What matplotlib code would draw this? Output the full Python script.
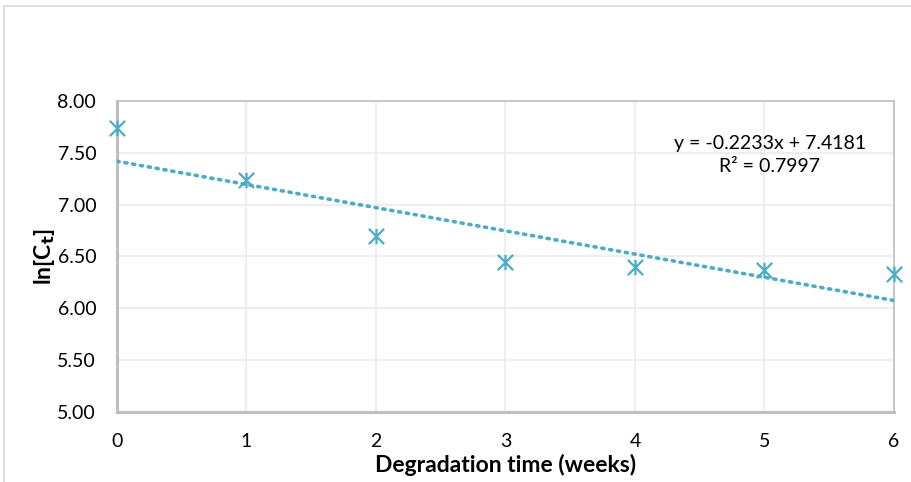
import numpy as np
import matplotlib
matplotlib.use("Agg")
import matplotlib.pyplot as plt
from matplotlib.path import Path
from matplotlib.patches import Rectangle

weeks = [0, 1, 2, 3, 4, 5, 6]
ln_ct = [7.74, 7.24, 6.70, 6.45, 6.40, 6.37, 6.33]
y_ticks = [5.00, 5.50, 6.00, 6.50, 7.00, 7.50, 8.00]
eq_text = "y = -0.2233x + 7.4181"
r2_text = "R² = 0.7997"

plt.rcParams['font.family'] = ['Lato', 'DejaVu Sans']
color = '#4bacc6'

fig = plt.figure(figsize=(9.12, 4.82), dpi=100)
fig.patches.append(Rectangle((4/912, -0.5), 2.0, 0.5 + 1 - 6/482, transform=fig.transFigure,
                             fill=False, edgecolor='#d9d9d9', linewidth=1.2))
ax = fig.add_axes([117/912, 1 - 412/482, (894 - 117)/912, (412 - 101)/482])

star = Path([(-1, -1), (1, 1), (-1, 1), (1, -1), (0, -1), (0, 1)],
            [Path.MOVETO, Path.LINETO, Path.MOVETO, Path.LINETO, Path.MOVETO, Path.LINETO])

x = np.array(weeks, dtype=float)
y = np.array(ln_ct)
m, b = np.polyfit(x, y, 1)
xx = np.array([0, 6])
ax.plot(xx, m * xx + b, linestyle=(0, (0.6, 1.6)), dash_capstyle='round', color=color, linewidth=2.6, zorder=3)
ax.plot(x, y, linestyle='none', marker=star, markersize=11, markeredgewidth=1.6,
        markeredgecolor=color, color=color, zorder=4, clip_on=False)

ax.set_xlim(0, 6)
ax.set_ylim(5, 8)
ax.set_xticks(weeks)
ax.set_yticks(y_ticks)
ax.set_yticklabels([f"{v:.2f}" for v in y_ticks])
ax.grid(True, color='#eeeeee', linewidth=1.5)
ax.set_axisbelow(True)
ax.tick_params(length=0, labelsize=14, colors='#000000')
ax.tick_params(axis='x', pad=15)
ax.tick_params(axis='y', pad=15)
for s in ['top', 'right']:
    ax.spines[s].set_color('#bfbfbf')
    ax.spines[s].set_linewidth(1.2)
for s in ['left', 'bottom']:
    ax.spines[s].set_color('#bfbfbf')
    ax.spines[s].set_linewidth(2.2)

ax.set_xlabel("Degradation time (weeks)", fontsize=16.5, fontweight='bold', labelpad=3)
ax.set_ylabel(r"ln[C$_\mathbf{t}$]", fontsize=16.5, fontweight='bold', labelpad=0)

ax.text(5.04, 7.59, eq_text, ha='center', va='center', fontsize=14)
ax.text(5.04, 7.37, r2_text, ha='center', va='center', fontsize=14)

fig.savefig("out.png", dpi=100)
